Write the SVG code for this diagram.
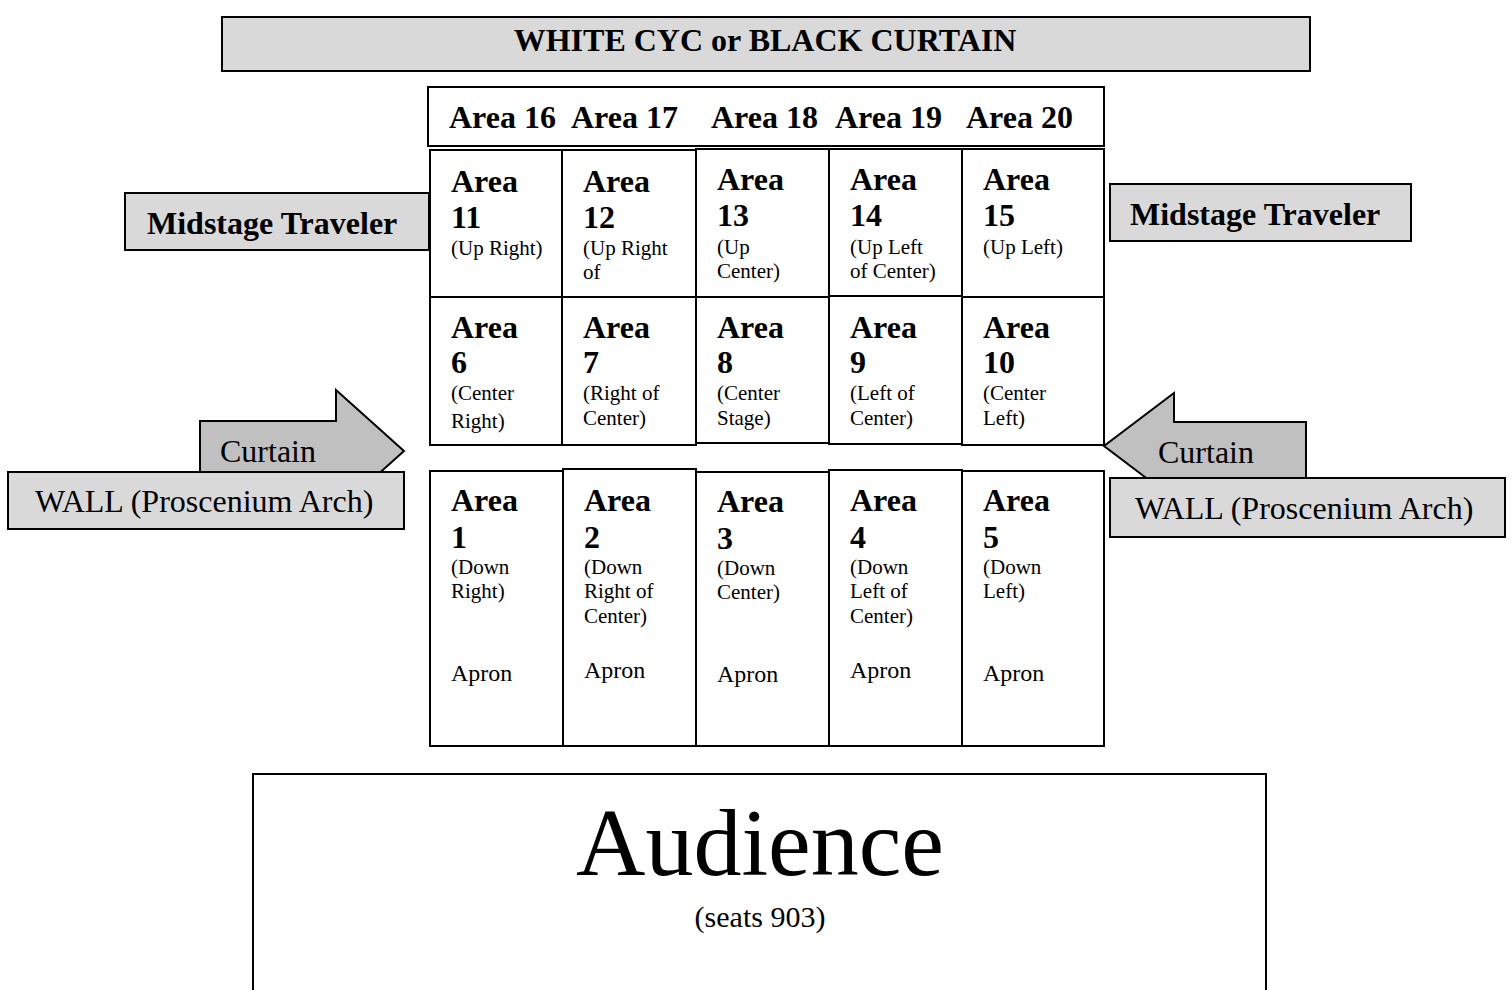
<svg xmlns="http://www.w3.org/2000/svg" width="1512" height="990" viewBox="0 0 1512 990">
<style>
text{font-family:"Liberation Serif","Times New Roman",serif;fill:#000}
.b{font-weight:bold;font-size:32px}
.s{font-size:21px}
.ap{font-size:24px}
.lab{font-size:32px}
.box{fill:#fff;stroke:#000;stroke-width:2}
.gray{fill:#d9d9d9;stroke:#000;stroke-width:2}
.arr{fill:#c0c0c0;stroke:#000;stroke-width:2}
</style>
<rect width="1512" height="990" fill="#fff"/>
<g id="backdrop">
<rect class="gray" x="222" y="17" width="1088" height="54"/>
<text class="b" x="765" y="51" text-anchor="middle">WHITE CYC or BLACK CURTAIN</text>
</g>
<g id="upstage-row">
<rect class="box" x="428" y="87" width="676" height="59"/>
<text class="b" x="449" y="128">Area 16</text>
<text class="b" x="571" y="128">Area 17</text>
<text class="b" x="711" y="128">Area 18</text>
<text class="b" x="835" y="128">Area 19</text>
<text class="b" x="966" y="128">Area 20</text>
</g>
<g id="traveler-left">
<rect class="gray" x="125" y="193" width="304" height="57"/>
<text class="b" x="147" y="234">Midstage Traveler</text>
</g>
<g id="traveler-right">
<rect class="gray" x="1110" y="184" width="301" height="57"/>
<text class="b" x="1130" y="225">Midstage Traveler</text>
</g>
<g id="curtain-left">
<polygon class="arr" points="200,421 336,421 336,390 404,451 336,512 200,512"/>
<text class="lab" x="220" y="462">Curtain</text>
</g>
<g id="wall-left">
<rect class="gray" x="8" y="472" width="396" height="57"/>
<text class="lab" x="35" y="512">WALL (Proscenium Arch)</text>
</g>
<g id="curtain-right">
<polygon class="arr" points="1306,422 1174,422 1174,393 1104,446 1174,499 1306,499"/>
<text class="lab" x="1158" y="463">Curtain</text>
</g>
<g id="wall-right">
<rect class="gray" x="1110" y="478" width="395" height="59"/>
<text class="lab" x="1135" y="519">WALL (Proscenium Arch)</text>
</g>
<g id="area11"><rect class="box" x="430" y="150" width="132" height="147"/>
<text class="b" x="451" y="192">Area</text><text class="b" x="451" y="228">11</text><text class="s" x="451" y="255">(Up Right)</text></g>
<g id="area12"><rect class="box" x="562" y="150" width="134" height="147"/>
<text class="b" x="583" y="192">Area</text><text class="b" x="583" y="228">12</text><text class="s" x="583" y="255">(Up Right</text><text class="s" x="583" y="279">of</text></g>
<g id="area13"><rect class="box" x="696" y="149" width="133" height="148"/>
<text class="b" x="717" y="190">Area</text><text class="b" x="717" y="226">13</text><text class="s" x="717" y="254">(Up</text><text class="s" x="717" y="278">Center)</text></g>
<g id="area14"><rect class="box" x="829" y="149" width="133" height="147"/>
<text class="b" x="850" y="190">Area</text><text class="b" x="850" y="226">14</text><text class="s" x="850" y="254">(Up Left</text><text class="s" x="850" y="278">of Center)</text></g>
<g id="area15"><rect class="box" x="962" y="149" width="142" height="148"/>
<text class="b" x="983" y="190">Area</text><text class="b" x="983" y="226">15</text><text class="s" x="983" y="254">(Up Left)</text></g>
<g id="area6"><rect class="box" x="430" y="297" width="132" height="148"/>
<text class="b" x="451" y="338">Area</text><text class="b" x="451" y="373">6</text><text class="s" x="451" y="400">(Center</text><text class="s" x="451" y="428">Right)</text></g>
<g id="area7"><rect class="box" x="562" y="297" width="134" height="148"/>
<text class="b" x="583" y="338">Area</text><text class="b" x="583" y="373">7</text><text class="s" x="583" y="400"> (Right of</text><text class="s" x="583" y="425">Center)</text></g>
<g id="area8"><rect class="box" x="696" y="297" width="133" height="146"/>
<text class="b" x="717" y="338">Area</text><text class="b" x="717" y="373">8</text><text class="s" x="717" y="400">(Center</text><text class="s" x="717" y="425">Stage)</text></g>
<g id="area9"><rect class="box" x="829" y="296" width="133" height="148"/>
<text class="b" x="850" y="338">Area</text><text class="b" x="850" y="373">9</text><text class="s" x="850" y="400">(Left of</text><text class="s" x="850" y="425">Center)</text></g>
<g id="area10"><rect class="box" x="962" y="297" width="142" height="148"/>
<text class="b" x="983" y="338">Area</text><text class="b" x="983" y="373">10</text><text class="s" x="983" y="400">(Center</text><text class="s" x="983" y="425">Left)</text></g>
<g id="area1"><rect class="box" x="430" y="471" width="133" height="275"/>
<text class="b" x="451" y="511">Area</text><text class="b" x="451" y="548">1</text><text class="s" x="451" y="574">(Down</text><text class="s" x="451" y="598">Right)</text><text class="ap" x="451" y="681">Apron</text></g>
<g id="area2"><rect class="box" x="563" y="469" width="133" height="277"/>
<text class="b" x="584" y="511">Area</text><text class="b" x="584" y="548">2</text><text class="s" x="584" y="574">(Down</text><text class="s" x="584" y="598">Right of</text><text class="s" x="584" y="623">Center)</text><text class="ap" x="584" y="678">Apron</text></g>
<g id="area3"><rect class="box" x="696" y="472" width="133" height="274"/>
<text class="b" x="717" y="512">Area</text><text class="b" x="717" y="549">3</text><text class="s" x="717" y="575">(Down</text><text class="s" x="717" y="599">Center)</text><text class="ap" x="717" y="682">Apron</text></g>
<g id="area4"><rect class="box" x="829" y="470" width="133" height="276"/>
<text class="b" x="850" y="511">Area</text><text class="b" x="850" y="548">4</text><text class="s" x="850" y="574">(Down</text><text class="s" x="850" y="598">Left of</text><text class="s" x="850" y="623">Center)</text><text class="ap" x="850" y="678">Apron</text></g>
<g id="area5"><rect class="box" x="962" y="471" width="142" height="275"/>
<text class="b" x="983" y="511">Area</text><text class="b" x="983" y="548">5</text><text class="s" x="983" y="574"> (Down</text><text class="s" x="983" y="598">Left)</text><text class="ap" x="983" y="681">Apron</text></g>
<g id="audience">
<rect class="box" x="253" y="774" width="1013" height="230"/>
<text x="760" y="875" text-anchor="middle" style="font-size:96px">Audience</text>
<text x="760" y="927" text-anchor="middle" style="font-size:30px">(seats 903)</text>
</g>
<g id="connectors"></g>
</svg>
